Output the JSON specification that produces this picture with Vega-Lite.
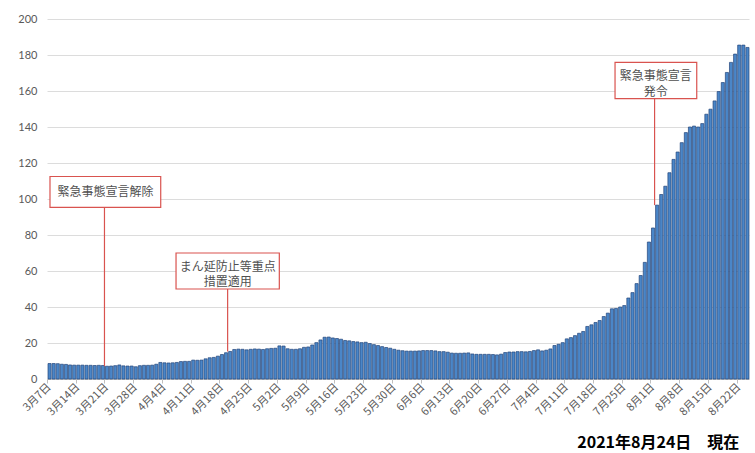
{
  "$schema": "https://vega.github.io/schema/vega-lite/v6.json",
  "width": 702,
  "height": 360,
  "autosize": "none",
  "padding": {"left": 47, "top": 19, "right": 6, "bottom": 74},
  "background": "white",
  "title": {
    "text": "2021年8月24日　現在",
    "orient": "bottom",
    "anchor": "end",
    "offset": 18,
    "dx": -10,
    "font": "Noto Sans CJK JP",
    "fontWeight": "bold",
    "fontSize": 16,
    "color": "#000000"
  },
  "config": {
    "view": {"stroke": null},
    "axisY": {
      "grid": true,
      "gridColor": "#dcdcdc",
      "domain": false,
      "ticks": false,
      "tickSize": 0,
      "labelFont": "Lato",
      "labelFontSize": 11,
      "labelColor": "#595959",
      "labelPadding": 10,
      "title": null
    }
  },
  "resolve": {"axis": {"x": "independent", "y": "independent"}},
  "datasets": {
    "daily": [
      {"date": "2021-03-07", "n": 8.6}, {"date": "2021-03-08", "n": 8.6}, {"date": "2021-03-09", "n": 8.5},
      {"date": "2021-03-10", "n": 8.2}, {"date": "2021-03-11", "n": 8.1}, {"date": "2021-03-12", "n": 7.8},
      {"date": "2021-03-13", "n": 7.7}, {"date": "2021-03-14", "n": 7.7}, {"date": "2021-03-15", "n": 7.7},
      {"date": "2021-03-16", "n": 7.6}, {"date": "2021-03-17", "n": 7.6}, {"date": "2021-03-18", "n": 7.5},
      {"date": "2021-03-19", "n": 7.6}, {"date": "2021-03-20", "n": 7.5}, {"date": "2021-03-21", "n": 7.1},
      {"date": "2021-03-22", "n": 7.2}, {"date": "2021-03-23", "n": 7.4}, {"date": "2021-03-24", "n": 7.8},
      {"date": "2021-03-25", "n": 7.3}, {"date": "2021-03-26", "n": 7.2}, {"date": "2021-03-27", "n": 7.2},
      {"date": "2021-03-28", "n": 6.8}, {"date": "2021-03-29", "n": 7.4}, {"date": "2021-03-30", "n": 7.6},
      {"date": "2021-03-31", "n": 7.6}, {"date": "2021-04-01", "n": 7.7}, {"date": "2021-04-02", "n": 8.2},
      {"date": "2021-04-03", "n": 9.2}, {"date": "2021-04-04", "n": 9.0}, {"date": "2021-04-05", "n": 8.9},
      {"date": "2021-04-06", "n": 9.0}, {"date": "2021-04-07", "n": 9.2}, {"date": "2021-04-08", "n": 9.7},
      {"date": "2021-04-09", "n": 9.8}, {"date": "2021-04-10", "n": 9.8}, {"date": "2021-04-11", "n": 10.5},
      {"date": "2021-04-12", "n": 10.4}, {"date": "2021-04-13", "n": 10.5}, {"date": "2021-04-14", "n": 11.2},
      {"date": "2021-04-15", "n": 11.8}, {"date": "2021-04-16", "n": 12.0}, {"date": "2021-04-17", "n": 12.7},
      {"date": "2021-04-18", "n": 13.6}, {"date": "2021-04-19", "n": 14.6}, {"date": "2021-04-20", "n": 15.3},
      {"date": "2021-04-21", "n": 16.4}, {"date": "2021-04-22", "n": 16.6}, {"date": "2021-04-23", "n": 16.5},
      {"date": "2021-04-24", "n": 16.2}, {"date": "2021-04-25", "n": 16.5}, {"date": "2021-04-26", "n": 16.7},
      {"date": "2021-04-27", "n": 16.6}, {"date": "2021-04-28", "n": 16.4}, {"date": "2021-04-29", "n": 16.8},
      {"date": "2021-04-30", "n": 17.0}, {"date": "2021-05-01", "n": 17.1}, {"date": "2021-05-02", "n": 18.4},
      {"date": "2021-05-03", "n": 18.3}, {"date": "2021-05-04", "n": 16.8}, {"date": "2021-05-05", "n": 16.5},
      {"date": "2021-05-06", "n": 16.5}, {"date": "2021-05-07", "n": 16.8}, {"date": "2021-05-08", "n": 17.6},
      {"date": "2021-05-09", "n": 17.8}, {"date": "2021-05-10", "n": 18.9}, {"date": "2021-05-11", "n": 20.2},
      {"date": "2021-05-12", "n": 21.7}, {"date": "2021-05-13", "n": 23.2}, {"date": "2021-05-14", "n": 23.3},
      {"date": "2021-05-15", "n": 22.8}, {"date": "2021-05-16", "n": 22.5}, {"date": "2021-05-17", "n": 22.1},
      {"date": "2021-05-18", "n": 21.4}, {"date": "2021-05-19", "n": 21.2}, {"date": "2021-05-20", "n": 20.8},
      {"date": "2021-05-21", "n": 20.6}, {"date": "2021-05-22", "n": 20.2}, {"date": "2021-05-23", "n": 20.4},
      {"date": "2021-05-24", "n": 19.7}, {"date": "2021-05-25", "n": 19.1}, {"date": "2021-05-26", "n": 18.6},
      {"date": "2021-05-27", "n": 18.0}, {"date": "2021-05-28", "n": 17.5}, {"date": "2021-05-29", "n": 17.1},
      {"date": "2021-05-30", "n": 16.5}, {"date": "2021-05-31", "n": 16.0}, {"date": "2021-06-01", "n": 15.7},
      {"date": "2021-06-02", "n": 15.5}, {"date": "2021-06-03", "n": 15.5}, {"date": "2021-06-04", "n": 15.5},
      {"date": "2021-06-05", "n": 15.6}, {"date": "2021-06-06", "n": 15.8}, {"date": "2021-06-07", "n": 15.8},
      {"date": "2021-06-08", "n": 15.8}, {"date": "2021-06-09", "n": 15.6}, {"date": "2021-06-10", "n": 15.2},
      {"date": "2021-06-11", "n": 15.2}, {"date": "2021-06-12", "n": 14.9}, {"date": "2021-06-13", "n": 14.4},
      {"date": "2021-06-14", "n": 14.3}, {"date": "2021-06-15", "n": 14.3}, {"date": "2021-06-16", "n": 14.4},
      {"date": "2021-06-17", "n": 14.5}, {"date": "2021-06-18", "n": 13.9}, {"date": "2021-06-19", "n": 13.7},
      {"date": "2021-06-20", "n": 13.7}, {"date": "2021-06-21", "n": 13.7}, {"date": "2021-06-22", "n": 13.7},
      {"date": "2021-06-23", "n": 13.6}, {"date": "2021-06-24", "n": 13.4}, {"date": "2021-06-25", "n": 13.8},
      {"date": "2021-06-26", "n": 14.7}, {"date": "2021-06-27", "n": 15.0}, {"date": "2021-06-28", "n": 15.0},
      {"date": "2021-06-29", "n": 15.2}, {"date": "2021-06-30", "n": 15.2}, {"date": "2021-07-01", "n": 15.1},
      {"date": "2021-07-02", "n": 15.3}, {"date": "2021-07-03", "n": 15.8}, {"date": "2021-07-04", "n": 16.2},
      {"date": "2021-07-05", "n": 15.6}, {"date": "2021-07-06", "n": 16.0}, {"date": "2021-07-07", "n": 16.7},
      {"date": "2021-07-08", "n": 18.6}, {"date": "2021-07-09", "n": 19.3}, {"date": "2021-07-10", "n": 20.2},
      {"date": "2021-07-11", "n": 22.3}, {"date": "2021-07-12", "n": 23.0}, {"date": "2021-07-13", "n": 24.1},
      {"date": "2021-07-14", "n": 25.4}, {"date": "2021-07-15", "n": 26.4}, {"date": "2021-07-16", "n": 29.2},
      {"date": "2021-07-17", "n": 30.1}, {"date": "2021-07-18", "n": 31.4}, {"date": "2021-07-19", "n": 32.5},
      {"date": "2021-07-20", "n": 34.7}, {"date": "2021-07-21", "n": 36.6}, {"date": "2021-07-22", "n": 39.0},
      {"date": "2021-07-23", "n": 39.2}, {"date": "2021-07-24", "n": 40.0}, {"date": "2021-07-25", "n": 40.8},
      {"date": "2021-07-26", "n": 45.0}, {"date": "2021-07-27", "n": 48.0}, {"date": "2021-07-28", "n": 53.0},
      {"date": "2021-07-29", "n": 57.5}, {"date": "2021-07-30", "n": 64.8}, {"date": "2021-07-31", "n": 76.1},
      {"date": "2021-08-01", "n": 83.9}, {"date": "2021-08-02", "n": 96.6}, {"date": "2021-08-03", "n": 102.5},
      {"date": "2021-08-04", "n": 107.1}, {"date": "2021-08-05", "n": 114.6}, {"date": "2021-08-06", "n": 122.0},
      {"date": "2021-08-07", "n": 126.1}, {"date": "2021-08-08", "n": 131.3}, {"date": "2021-08-09", "n": 136.9},
      {"date": "2021-08-10", "n": 140.0}, {"date": "2021-08-11", "n": 140.5}, {"date": "2021-08-12", "n": 140.0},
      {"date": "2021-08-13", "n": 141.9}, {"date": "2021-08-14", "n": 147.1}, {"date": "2021-08-15", "n": 149.9},
      {"date": "2021-08-16", "n": 154.5}, {"date": "2021-08-17", "n": 159.7}, {"date": "2021-08-18", "n": 164.7},
      {"date": "2021-08-19", "n": 170.3}, {"date": "2021-08-20", "n": 175.9}, {"date": "2021-08-21", "n": 180.5},
      {"date": "2021-08-22", "n": 185.5}, {"date": "2021-08-23", "n": 185.5}, {"date": "2021-08-24", "n": 184.2}
    ]
  },
  "data": {"name": "daily"},
  "layer": [
    {
      "mark": {"type": "bar", "fill": "#4a86c8", "stroke": "#24457a", "strokeWidth": 0.7},
      "encoding": {
        "x": {
          "field": "date",
          "type": "temporal",
          "timeUnit": "utcyearmonthdate",
          "scale": {
            "type": "utc",
            "domain": [
              {"year": 2021, "month": 3, "date": 7, "utc": true},
              {"year": 2021, "month": 8, "date": 25, "utc": true}
            ],
            "nice": false
          },
          "axis": {
            "values": [
              {"year": 2021, "month": 3, "date": 7, "utc": true},
              {"year": 2021, "month": 3, "date": 14, "utc": true},
              {"year": 2021, "month": 3, "date": 21, "utc": true},
              {"year": 2021, "month": 3, "date": 28, "utc": true},
              {"year": 2021, "month": 4, "date": 4, "utc": true},
              {"year": 2021, "month": 4, "date": 11, "utc": true},
              {"year": 2021, "month": 4, "date": 18, "utc": true},
              {"year": 2021, "month": 4, "date": 25, "utc": true},
              {"year": 2021, "month": 5, "date": 2, "utc": true},
              {"year": 2021, "month": 5, "date": 9, "utc": true},
              {"year": 2021, "month": 5, "date": 16, "utc": true},
              {"year": 2021, "month": 5, "date": 23, "utc": true},
              {"year": 2021, "month": 5, "date": 30, "utc": true},
              {"year": 2021, "month": 6, "date": 6, "utc": true},
              {"year": 2021, "month": 6, "date": 13, "utc": true},
              {"year": 2021, "month": 6, "date": 20, "utc": true},
              {"year": 2021, "month": 6, "date": 27, "utc": true},
              {"year": 2021, "month": 7, "date": 4, "utc": true},
              {"year": 2021, "month": 7, "date": 11, "utc": true},
              {"year": 2021, "month": 7, "date": 18, "utc": true},
              {"year": 2021, "month": 7, "date": 25, "utc": true},
              {"year": 2021, "month": 8, "date": 1, "utc": true},
              {"year": 2021, "month": 8, "date": 8, "utc": true},
              {"year": 2021, "month": 8, "date": 15, "utc": true},
              {"year": 2021, "month": 8, "date": 22, "utc": true}
            ],
            "labelExpr": "utcFormat(datum.value, '%-m月%-d日')",
            "title": null,
            "grid": false,
            "domain": true,
            "domainColor": "#bfbfbf",
            "ticks": true,
            "tickColor": "#bfbfbf",
            "tickSize": 4,
            "labelAngle": -45,
            "labelAlign": "right",
            "labelBaseline": "middle",
            "labelPadding": 2,
            "labelOffset": 2,
            "labelFont": "Noto Sans CJK JP",
            "labelFontSize": 11,
            "labelColor": "#595959",
            "labelOverlap": false,
            "labelBound": false,
            "labelFlush": false
          }
        },
        "y": {
          "field": "n",
          "type": "quantitative",
          "scale": {"domain": [0, 200], "nice": false},
          "axis": {"values": [0, 20, 40, 60, 80, 100, 120, 140, 160, 180, 200]}
        }
      }
    },
    {
      "transform": [{"filter": "toDate(datum.date) - toDate('2021-03-21') == 0"}],
      "resolve": {"axis": {"x": "independent", "y": "independent"}},
      "layer": [
        {
          "mark": {"type": "rule", "stroke": "#d9534f", "strokeWidth": 1.2},
          "encoding": {
            "x": {"field": "date", "type": "temporal", "axis": null},
            "y": {"field": "n", "type": "quantitative", "axis": null},
            "y2": {"datum": 95.3}
          }
        },
        {
          "mark": {"type": "rect", "fill": "white", "stroke": "#d9534f", "strokeWidth": 1.2},
          "encoding": {
            "x": {"datum": {"year": 2021, "month": 3, "date": 7, "hours": 17, "minutes": 30, "utc": true}, "type": "temporal", "axis": null},
            "x2": {"datum": {"year": 2021, "month": 4, "date": 3, "hours": 16, "minutes": 50, "utc": true}},
            "y": {"datum": 112.5, "type": "quantitative", "axis": null},
            "y2": {"datum": 95.3}
          }
        },
        {
          "mark": {"type": "text", "font": "Noto Sans CJK JP", "fontSize": 12, "fill": "#505050", "align": "center", "baseline": "middle"},
          "encoding": {
            "x": {"datum": {"year": 2021, "month": 3, "date": 21, "hours": 5, "minutes": 30, "utc": true}, "type": "temporal", "axis": null},
            "y": {"datum": 103.9, "type": "quantitative", "axis": null},
            "text": {"value": "緊急事態宣言解除"}
          }
        }
      ]
    },
    {
      "transform": [{"filter": "toDate(datum.date) - toDate('2021-04-20') == 0"}],
      "resolve": {"axis": {"x": "independent", "y": "independent"}},
      "layer": [
        {
          "mark": {"type": "rule", "stroke": "#d9534f", "strokeWidth": 1.2},
          "encoding": {
            "x": {"field": "date", "type": "temporal", "axis": null},
            "y": {"field": "n", "type": "quantitative", "axis": null},
            "y2": {"datum": 50}
          }
        },
        {
          "mark": {"type": "rect", "fill": "white", "stroke": "#d9534f", "strokeWidth": 1.2},
          "encoding": {
            "x": {"datum": {"year": 2021, "month": 4, "date": 7, "hours": 10, "minutes": 20, "utc": true}, "type": "temporal", "axis": null},
            "x2": {"datum": {"year": 2021, "month": 5, "date": 2, "hours": 14, "minutes": 10, "utc": true}},
            "y": {"datum": 70, "type": "quantitative", "axis": null},
            "y2": {"datum": 50}
          }
        },
        {
          "mark": {"type": "text", "font": "Noto Sans CJK JP", "fontSize": 12, "fill": "#505050", "align": "center", "baseline": "middle", "lineBreak": "\n", "lineHeight": 15.5},
          "encoding": {
            "x": {"datum": {"year": 2021, "month": 4, "date": 20, "hours": 0, "utc": true}, "type": "temporal", "axis": null},
            "y": {"datum": 62.4, "type": "quantitative", "axis": null},
            "text": {"value": "まん延防止等重点\n措置適用"}
          }
        }
      ]
    },
    {
      "transform": [{"filter": "toDate(datum.date) - toDate('2021-08-02') == 0"}],
      "resolve": {"axis": {"x": "independent", "y": "independent"}},
      "layer": [
        {
          "mark": {"type": "rule", "stroke": "#d9534f", "strokeWidth": 1.2},
          "encoding": {
            "x": {"field": "date", "type": "temporal", "axis": null},
            "y": {"field": "n", "type": "quantitative", "axis": null},
            "y2": {"datum": 155.8}
          }
        },
        {
          "mark": {"type": "rect", "fill": "white", "stroke": "#d9534f", "strokeWidth": 1.2},
          "encoding": {
            "x": {"datum": {"year": 2021, "month": 7, "date": 23, "hours": 8, "minutes": 50, "utc": true}, "type": "temporal", "axis": null},
            "x2": {"datum": {"year": 2021, "month": 8, "date": 12, "hours": 6, "minutes": 30, "utc": true}},
            "y": {"datum": 175.9, "type": "quantitative", "axis": null},
            "y2": {"datum": 155.8}
          }
        },
        {
          "mark": {"type": "text", "font": "Noto Sans CJK JP", "fontSize": 12, "fill": "#505050", "align": "center", "baseline": "middle", "lineBreak": "\n", "lineHeight": 15.5},
          "encoding": {
            "x": {"datum": {"year": 2021, "month": 8, "date": 2, "hours": 7, "minutes": 10, "utc": true}, "type": "temporal", "axis": null},
            "y": {"datum": 168.2, "type": "quantitative", "axis": null},
            "text": {"value": "緊急事態宣言\n発令"}
          }
        }
      ]
    }
  ]
}
